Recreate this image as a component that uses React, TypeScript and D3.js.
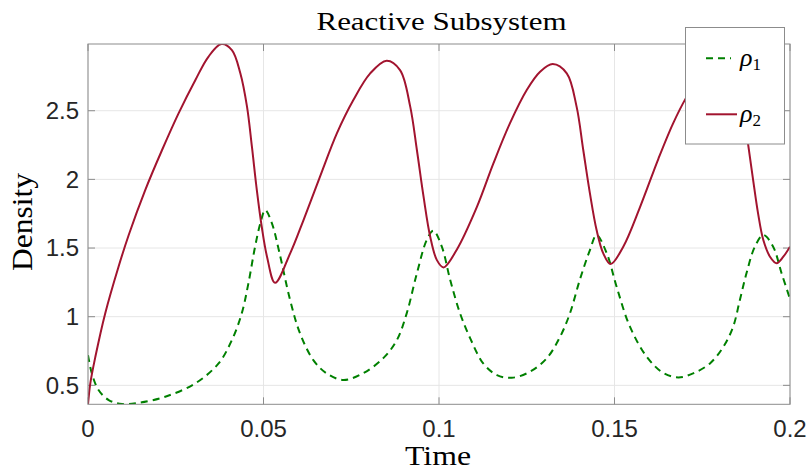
import React from "react";
import * as d3 from "d3";

const W = 809;
const H = 470;

const xTicks = [0, 0.05, 0.1, 0.15, 0.2];
const xTickLabels = ["0", "0.05", "0.1", "0.15", "0.2"];
const yTicks = [0.5, 1, 1.5, 2, 2.5];
const yTickLabels = ["0.5", "1", "1.5", "2", "2.5"];

const timeRho1 = [
  0, 0.0011, 0.003, 0.0059, 0.0097, 0.0144, 0.022, 0.0306, 0.0372, 0.041, 0.0438, 0.0457,
  0.0476, 0.0491, 0.0505, 0.0524, 0.0545, 0.0576, 0.0604, 0.0642, 0.068, 0.0728, 0.0785, 0.0842,
  0.088, 0.0908, 0.0937, 0.0965, 0.0984, 0.1008, 0.1032, 0.106, 0.1089, 0.1126, 0.1165, 0.1207,
  0.1259, 0.1307, 0.1345, 0.1373, 0.1401, 0.143, 0.1449, 0.1478, 0.1506, 0.1544, 0.1592, 0.1639,
  0.1682, 0.1724, 0.1772, 0.181, 0.1838, 0.1857, 0.1876, 0.19, 0.1924, 0.1952, 0.1976, 0.2,
];
const rho1 = [
  0.72, 0.587, 0.466, 0.393, 0.364, 0.373, 0.417, 0.515, 0.66, 0.83, 1.024, 1.243,
  1.51, 1.68, 1.777, 1.68, 1.47, 1.12, 0.879, 0.684, 0.587, 0.539, 0.59, 0.7,
  0.83, 1.024, 1.316, 1.558, 1.626, 1.51, 1.267, 1.024, 0.842, 0.66, 0.575, 0.555,
  0.599, 0.697, 0.854, 1.024, 1.267, 1.485, 1.595, 1.461, 1.218, 0.927, 0.708, 0.59,
  0.558, 0.587, 0.66, 0.78, 0.927, 1.12, 1.316, 1.51, 1.595, 1.51, 1.316, 1.13,
];

const timeRho2 = [
  0, 0.00066, 0.0021, 0.0049, 0.0087, 0.0116, 0.0163, 0.0211, 0.0258, 0.0306, 0.0343, 0.038,
  0.041, 0.0434, 0.0453, 0.0467, 0.0481, 0.0495, 0.051, 0.0533, 0.0576, 0.0614, 0.0661, 0.0709,
  0.0756, 0.0804, 0.0851, 0.0889, 0.0918, 0.0937, 0.0956, 0.0975, 0.0994, 0.1013, 0.1051, 0.1108,
  0.1155, 0.1202, 0.125, 0.1288, 0.1324, 0.1364, 0.1392, 0.1411, 0.143, 0.1449, 0.1468,
  0.1489, 0.1525, 0.1573, 0.1625, 0.1667, 0.1703, 0.1723, 0.1761, 0.1797, 0.1837, 0.1865, 0.1881,
  0.1895, 0.1909, 0.1924, 0.1943, 0.1962, 0.1981, 0.2,
];
const rho2 = [
  0.362, 0.515, 0.708, 1.024, 1.364, 1.595, 1.922, 2.214, 2.481, 2.724, 2.893, 2.986,
  2.942, 2.773, 2.53, 2.238, 1.922, 1.655, 1.437, 1.247, 1.461, 1.704, 2.02, 2.335,
  2.578, 2.772, 2.864, 2.796, 2.53, 2.214, 1.874, 1.582, 1.412, 1.359, 1.49, 1.8,
  2.117, 2.408, 2.651, 2.784, 2.84, 2.772, 2.53, 2.214, 1.898, 1.631, 1.461,
  1.383, 1.51, 1.8, 2.15, 2.408, 2.59, 2.67, 2.79, 2.83, 2.77, 2.53, 2.25,
  1.995, 1.753, 1.558, 1.437, 1.389, 1.437, 1.51,
];

const seriesNames = ["1", "2"];

export default function App() {
  const left = 88, right = 790, top = 44, bottom = 404.3;
  const x = d3.scaleLinear().domain([0, 0.2]).range([left, right]);
  const y = d3.scaleLinear().domain([0.362, 2.986]).range([bottom, top]);

  const line = d3
    .line<[number, number]>()
    .x((d) => x(d[0]))
    .y((d) => y(d[1]))
    .curve(d3.curveCatmullRom.alpha(0.5));

  const d1 = line(timeRho1.map((t, i) => [t, rho1[i]] as [number, number])) || "";
  const d2 = line(timeRho2.map((t, i) => [t, rho2[i]] as [number, number])) || "";

  const green = "#008000";
  const red = "#a2142f";
  const axisColor = "#8c8c8c";
  const gridColor = "#e6e6e6";
  const textColor = "#262626";
  const tickFont = "'Liberation Sans', Arial, sans-serif";
  const serif = "'Liberation Serif', 'DejaVu Serif', serif";

  return (
    <svg width={W} height={H} style={{ position: "absolute", left: 0, top: 0, background: "#fff" }}>
      <defs>
        <clipPath id="plotclip">
          <rect x={left} y={top} width={right - left} height={bottom - top} />
        </clipPath>
      </defs>
      <rect x={0} y={0} width={W} height={H} fill="#fff" />
      {xTicks.map((t, i) => (
        <line key={"gx" + i} x1={x(t)} x2={x(t)} y1={top} y2={bottom} stroke={gridColor} strokeWidth={1} />
      ))}
      {yTicks.map((t, i) => (
        <line key={"gy" + i} x1={left} x2={right} y1={y(t)} y2={y(t)} stroke={gridColor} strokeWidth={1} />
      ))}
      {xTicks.map((t, i) => (
        <g key={"tx" + i}>
          <line x1={x(t)} x2={x(t)} y1={bottom} y2={bottom - 7} stroke={axisColor} />
          <line x1={x(t)} x2={x(t)} y1={top} y2={top + 7} stroke={axisColor} />
        </g>
      ))}
      {yTicks.map((t, i) => (
        <g key={"ty" + i}>
          <line x1={left} x2={left + 7} y1={y(t)} y2={y(t)} stroke={axisColor} />
          <line x1={right} x2={right - 7} y1={y(t)} y2={y(t)} stroke={axisColor} />
        </g>
      ))}
      <g clipPath="url(#plotclip)">
        <path d={d1} fill="none" stroke={green} strokeWidth={2} strokeDasharray="7,5" />
        <path d={d2} fill="none" stroke={red} strokeWidth={2} />
      </g>
      <rect x={left} y={top} width={right - left} height={bottom - top} fill="none" stroke={axisColor} strokeWidth={1} />
      {xTicks.map((t, i) => (
        <text key={"lx" + i} x={x(t)} y={437} textAnchor="middle" fontFamily={tickFont} fontSize={24} fill={textColor}>
          {xTickLabels[i]}
        </text>
      ))}
      {yTicks.map((t, i) => (
        <text key={"ly" + i} x={79} y={y(t)} dy="0.35em" textAnchor="end" fontFamily={tickFont} fontSize={24} fill={textColor}>
          {yTickLabels[i]}
        </text>
      ))}
      <text x={441.5} y={29.5} textAnchor="middle" fontFamily={serif} fontSize={25} fill="#000" textLength={250} lengthAdjust="spacingAndGlyphs">
        Reactive Subsystem
      </text>
      <text x={438} y={465} textAnchor="middle" fontFamily={serif} fontSize={28} fill="#000" textLength={66} lengthAdjust="spacingAndGlyphs">
        Time
      </text>
      <text transform={`translate(32,222) rotate(-90)`} textAnchor="middle" fontFamily={serif} fontSize={29} fill="#000" textLength={98} lengthAdjust="spacingAndGlyphs">
        Density
      </text>
      <rect x={685.5} y={27.5} width={99} height={116.5} fill="#fff" stroke={axisColor} strokeWidth={1} />
      <line x1={706} x2={731} y1={58.3} y2={58.3} stroke={green} strokeWidth={2} strokeDasharray="7,5" />
      <line x1={706} x2={737} y1={114.3} y2={114.3} stroke={red} strokeWidth={2} />
      {seriesNames.map((s, i) => (
        <text key={"lg" + i} x={740} y={i === 0 ? 66 : 122} fontFamily={serif} fontSize={26} fill="#000">
          <tspan fontStyle="italic">ρ</tspan>
          <tspan fontSize={17} dy={4}>{s}</tspan>
        </text>
      ))}
    </svg>
  );
}
